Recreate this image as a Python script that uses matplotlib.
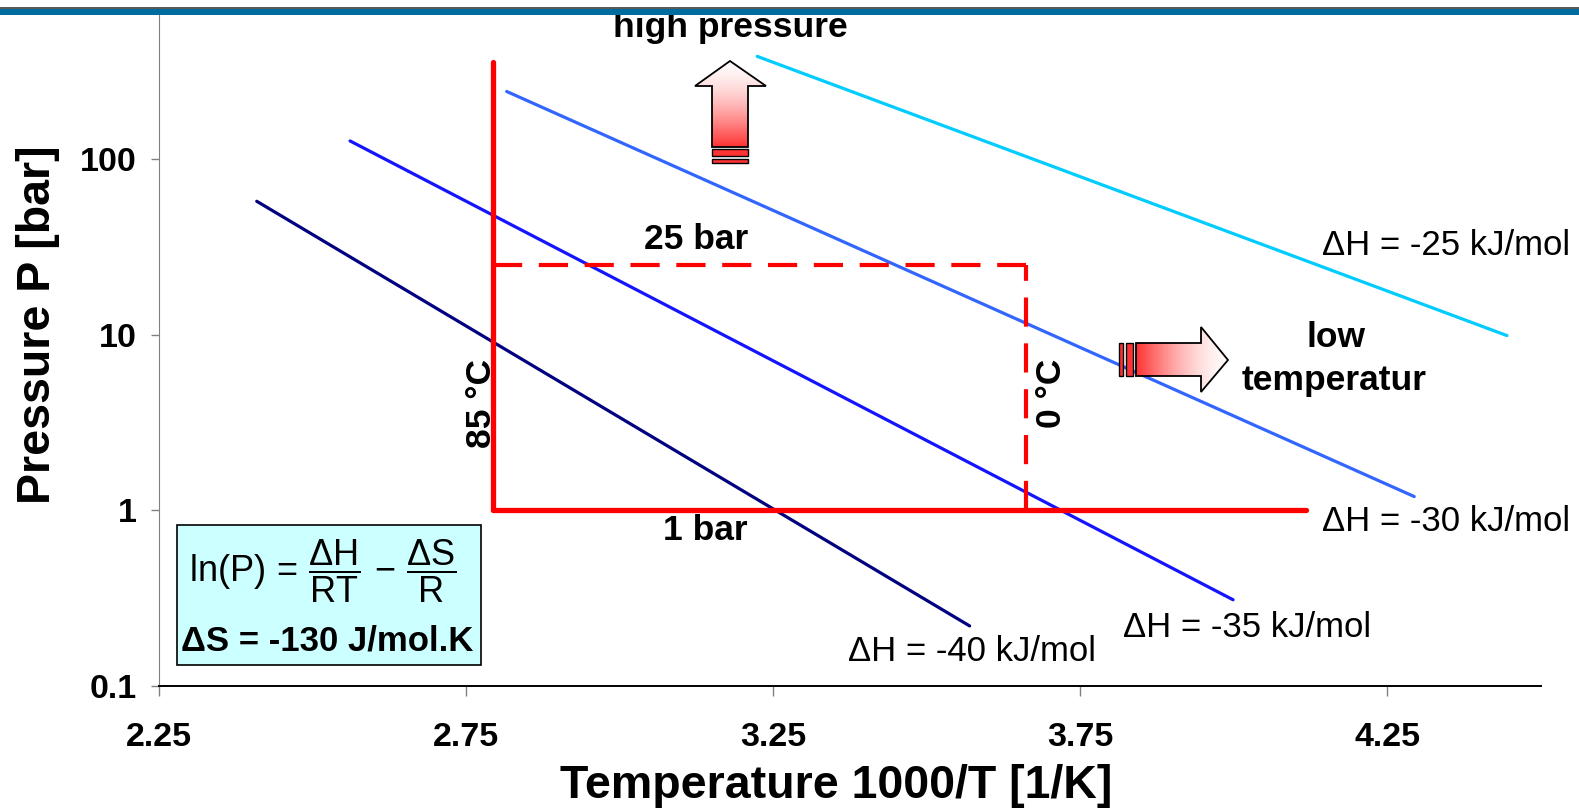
import numpy as np
import matplotlib
matplotlib.use("Agg")
import matplotlib.pyplot as plt
from matplotlib.patches import Polygon, Rectangle

plt.rcParams['font.family'] = ['Liberation Sans', 'DejaVu Sans']
plt.rcParams['mathtext.fontset'] = 'custom'
plt.rcParams['mathtext.rm'] = 'Liberation Sans'
plt.rcParams['mathtext.it'] = 'Liberation Sans'
plt.rcParams['mathtext.bf'] = 'Liberation Sans:bold'

# van 't Hoff lines (start / end points)
dh_labels = ['ΔH = -25 kJ/mol', 'ΔH = -30 kJ/mol', 'ΔH = -35 kJ/mol', 'ΔH = -40 kJ/mol']
x_start = [3.224, 2.816, 2.561, 2.409]
x_end = [4.445, 4.294, 3.999, 3.570]
p_start = [385, 243, 127, 57.6]
p_end = [9.9, 1.2, 0.31, 0.22]
line_colors = ['#00ccff', '#3366ff', '#1414ff', '#000080']
label_pos = [(4.143, 32.2), (4.143, 0.861), (3.819, 0.215), (3.372, 0.157)]

# operating window
x_85C = 2.794
x_0C = 3.661
x_h_end = 4.117
p_low = 1
p_high = 25
p_top = 356

xticks = [2.25, 2.75, 3.25, 3.75, 4.25]
yticks = [0.1, 1, 10, 100]

fig = plt.figure(figsize=(15.79, 8.10), dpi=100)
ax = fig.add_axes([158/1568, 1 - 681/804, (1530 - 158)/1568, (681 - 15)/804])
ax.set_yscale('log')
ax.set_xlim(2.25, 4.5)
ax.set_ylim(0.1, 10 ** (-1 + 666 / 174.33))

for i in range(len(dh_labels)):
    ax.plot([x_start[i], x_end[i]], [p_start[i], p_end[i]], color=line_colors[i],
            lw=2.3, solid_capstyle='round')
    ax.text(label_pos[i][0], label_pos[i][1], dh_labels[i], fontsize=25,
            ha='left', va='center')

red = '#ff0000'
ax.plot([x_85C, x_85C], [p_low, p_top], color=red, lw=3.8, solid_capstyle='round')
ax.plot([x_85C, x_h_end], [p_low, p_low], color=red, lw=3.8, solid_capstyle='round')
ax.plot([x_85C, x_0C], [p_high, p_high], color=red, lw=3, dashes=(7, 4))
ax.plot([x_0C, x_0C], [p_low, p_high], color=red, lw=3, dashes=(7, 4))

bold = dict(fontsize=25.5, fontweight='bold', ha='center', va='center')
ax.text(3.125, 34.8, '25 bar', **bold)
ax.text(3.139, 0.764, '1 bar', **bold)
ax.text(2.7746, 4.09, '85 °C', rotation=90, **bold)
ax.text(3.703, 4.67, '0 °C', rotation=90, **bold)
ax.text(4.166, 9.66, 'low', **bold)
ax.text(4.163, 5.47, 'temperatur', **bold)

# formula box
ax.add_patch(Rectangle((0.0131, 0.0315), 0.2201, 0.2087, transform=ax.transAxes,
                       facecolor='#ccffff', edgecolor='black', lw=1.2, zorder=5))
ax.text(0.1188, 0.171,
        r'$\mathrm{ln(P)}\,=\,\dfrac{\mathrm{\Delta H}}{\mathrm{RT}}\,-\,\dfrac{\mathrm{\Delta S}}{\mathrm{R}}$',
        transform=ax.transAxes, fontsize=26, ha='center', va='center', zorder=6)
ax.text(0.1217, 0.0676, 'ΔS = -130 J/mol.K', transform=ax.transAxes, fontsize=25,
        fontweight='bold', ha='center', va='center', zorder=6)

ax.set_xticks(xticks)
ax.set_xticklabels(['2.25', '2.75', '3.25', '3.75', '4.25'])
ax.set_yticks(yticks)
ax.set_yticklabels(['0.1', '1', '10', '100'])
ax.yaxis.set_minor_locator(matplotlib.ticker.NullLocator())
ax.tick_params(axis='x', direction='out', length=7, width=1, color='#808080',
               labelsize=24.5, pad=19)
ax.tick_params(axis='y', direction='out', length=6, width=1, color='#808080',
               labelsize=24.5, pad=10)
for lab in ax.get_xticklabels() + ax.get_yticklabels():
    lab.set_fontweight('bold')
ax.spines['top'].set_visible(False)
ax.spines['right'].set_visible(False)
ax.spines['left'].set_color('#808080')
ax.spines['bottom'].set_color('black')
ax.spines['bottom'].set_linewidth(1.4)

ax.set_xlabel('Temperature 1000/T [1/K]', fontsize=33.5, fontweight='bold', va='center')
ax.xaxis.set_label_coords(0.49, -0.1486)
ax.set_ylabel('Pressure P [bar]', fontsize=33.5, fontweight='bold', va='center')
ax.yaxis.set_label_coords(-0.0875, 0.539)

# overlay in pixel coordinates for arrows and header bar
ov = fig.add_axes([0, 0, 1, 1], zorder=10)
ov.set_axis_off()
ov.patch.set_alpha(0)


def grad_arrow(verts, extent, img):
    poly = Polygon(verts, closed=True, facecolor='none', edgecolor='black', lw=1.3, zorder=4)
    ov.add_patch(poly)
    im = ov.imshow(img, extent=extent, origin='upper', aspect='auto', zorder=3,
                   interpolation='bilinear')
    im.set_clip_path(poly)


n = 64
t = np.linspace(0, 1, n) ** 1.6
white = np.array([1.0, 0.98, 0.98])
redc = np.array([1.0, 0.2, 0.2])
col = white[None, :] * (1 - t[:, None]) + redc[None, :] * t[:, None]

up = [(730, 61), (766, 86), (748, 86), (748, 147), (712, 147), (712, 86), (695, 86)]
grad_arrow(up, (695, 766, 147, 61), col[:, None, :])
for y0, y1 in [(149, 156), (159, 163)]:
    ov.add_patch(Rectangle((712, y0), 36, y1 - y0, facecolor='#ff3333', edgecolor='black',
                           lw=1, zorder=4))

right = [(1136, 343), (1201, 343), (1201, 327), (1228, 360), (1201, 392), (1201, 376),
         (1136, 376)]
grad_arrow(right, (1136, 1228, 392, 327), col[::-1][None, :, :])
for x0, x1 in [(1119, 1123), (1126, 1133)]:
    ov.add_patch(Rectangle((x0, 343), x1 - x0, 33, facecolor='#ff3333', edgecolor='black',
                           lw=1, zorder=4))

ov.text(730, 27, 'high pressure', fontsize=25.5, fontweight='bold', ha='center', va='center',
        zorder=2)

# header bar
ov.add_patch(Rectangle((0, 9), 1579, 6, facecolor='#006b9f', edgecolor='none', zorder=8))
ov.add_patch(Rectangle((0, 0), 1579, 7, facecolor='white', edgecolor='none', zorder=8))
ov.plot([0, 1579], [7.8, 7.8], color='#555555', lw=1.4, zorder=9)

ov.set_xlim(0, 1579)
ov.set_ylim(810, 0)

fig.savefig('out.png', dpi=100)
